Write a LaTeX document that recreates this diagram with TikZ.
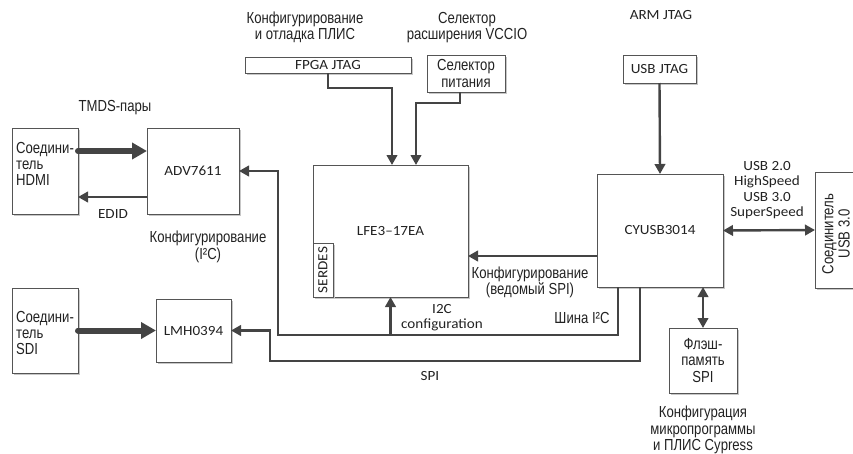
\documentclass[tikz,border=0pt]{standalone}
\usepackage{fontspec}
\setmainfont{Carlito}[FakeStretch=1.08]
\newfontfamily\rufont[FakeStretch=0.82]{Liberation Sans}
\usetikzlibrary{arrows.meta,calc,shadows}
\definecolor{boxc}{HTML}{555555}
\definecolor{linec}{HTML}{444444}
\definecolor{txt}{HTML}{222222}
\newcommand\rutext{\rufont\fontsize{16}{16.3}\selectfont}
\newcommand\entext{\fontsize{14}{15.3}\selectfont}
\begin{document}
\begin{tikzpicture}[x=1pt,y=-1pt,
  box/.style={draw=boxc, line width=0.9pt, fill=white, inner sep=0pt, outer sep=0pt,
    drop shadow={shadow xshift=1.8pt,shadow yshift=-1.8pt,fill=black!22,opacity=1},
    font=\entext, text=txt, align=center},
  rubox/.style={box, font=\rutext},
  lbl/.style={text=txt, font=\rutext, align=center, inner sep=0pt},
  elbl/.style={text=txt, font=\entext, align=center, inner sep=0pt},
  conn/.style={draw=linec, line width=2.4pt, -{Triangle[length=10pt,width=10.5pt]}},
  both/.style={draw=linec, line width=2.4pt, {Triangle[length=10pt,width=10.5pt]}-{Triangle[length=10pt,width=10.5pt]}},
  fat/.style={draw=linec, line width=6pt, line cap=round, -{Triangle[length=15pt,width=16pt]}}
]
\useasboundingbox (0,0) rectangle (853,453);

% boxes
\node[box, minimum width=66pt, minimum height=86pt] (hdmi) at (45,171) {};
\node[lbl, anchor=west, align=left] (hdmitxt) at (16,164) {Соедини-\\тель\\HDMI};
\node[box, minimum width=92pt, minimum height=86pt] (adv) at (193,171) {ADV7611};
\node[box, minimum width=66pt, minimum height=85pt] (sdi) at (45,330.5) {};
\node[lbl, anchor=west, align=left] (sditxt) at (16,333) {Соедини-\\тель\\SDI};
\node[box, minimum width=75pt, minimum height=63pt] (lmh) at (193.5,330.5) {LMH0394};
\node[box, minimum width=166pt, minimum height=16pt] (fpgajtag) at (328,65) {FPGA JTAG};
\node[rubox, minimum width=78pt, minimum height=37pt] (sel) at (466,73.5) {Селектор\\питания};
\node[box, minimum width=155pt, minimum height=132pt] (lfe) at (390.5,231) {LFE3–17EA};
\node[box, minimum width=20pt, minimum height=54pt] (serdes) at (323,270) {};
\node[elbl, rotate=90] (serdestxt) at (serdes.center) {SERDES};
\node[box, minimum width=73pt, minimum height=28pt] (usbjtag) at (659.5,69) {USB JTAG};
\node[box, minimum width=126pt, minimum height=113pt] (cyusb) at (660,230.5) {CYUSB3014};
\node[box, minimum width=38pt, minimum height=116pt] (usbconn) at (834,230) {};
\node[lbl, rotate=90] (usbconntxt) at (836,234) {Соединитель\\USB 3.0};
\node[rubox, minimum width=68pt, minimum height=65pt] (flash) at (703,360.5) {Флэш-\\память\\SPI};

% labels
\node[lbl] (l1) at (305,27.5) {Конфигурирование\\и отладка ПЛИС};
\node[lbl] (l2) at (467,27.5) {Селектор\\расширения VCCIO};
\node[elbl] (armjtag) at (661,15) {ARM JTAG};
\node[lbl] (tmds) at (115,108) {TMDS-пары};
\node[elbl] (edid) at (113,214) {EDID};
\node[lbl] (cfgi2c) at (208,247) {Конфигурирование\\(I²C)};
\node[lbl] (cfgspi) at (530,282.5) {Конфигурирование\\(ведомый SPI)};
\node[elbl] (i2ccfg) at (442,317.5) {I2C\\configuration};
\node[lbl] (shina) at (582,318) {Шина I²C};
\node[elbl] (spi) at (430,376) {SPI};
\node[elbl] (usbspeed) at (767,190) {USB 2.0\\HighSpeed\\USB 3.0\\SuperSpeed};
\node[lbl] (fwcfg) at (703,430) {Конфигурация\\микропрограммы\\и ПЛИС Cypress};

% helper coordinates
\coordinate (cfgy) at (0,256);
\coordinate (busR) at (618,335);
\coordinate (busL) at (278,335);
\coordinate (spiR) at (640,361);
\coordinate (spiL) at (270,361);

% connectors
\draw[conn] (fpgajtag.south) -- ++(0,15) -| ($(lfe.north)+(1.5,0)$);
\draw[conn] ($(sel.south)+(-6,0)$) -- ++(0,11) -| ($(lfe.north)+(25.5,0)$);
\draw[conn] (usbjtag.south) -- (cyusb.north);
\draw[both] (cyusb.east) -- (usbconn.west);
\draw[conn] (cyusb.west |- cfgy) -- (lfe.east |- cfgy);
\draw[both] (flash.north) -- (flash.north |- cyusb.south);
\draw[conn] (cyusb.south -| busR) -- (busR) -- (busL) |- (adv.east);
\draw[conn] (busR -| lfe.south) -- (lfe.south);
\draw[conn] (cyusb.south -| spiR) -- (spiR) -- (spiL) |- (lmh.east);
\draw[fat] ($(hdmi.north east)+(0,23)$) -- ($(adv.north west)+(0,23)$);
\draw[conn] ($(adv.south west)+(0,-17)$) -- ($(hdmi.south east)+(0,-17)$);
\draw[fat] (sdi.east) -- (lmh.west);
\end{tikzpicture}
\end{document}
